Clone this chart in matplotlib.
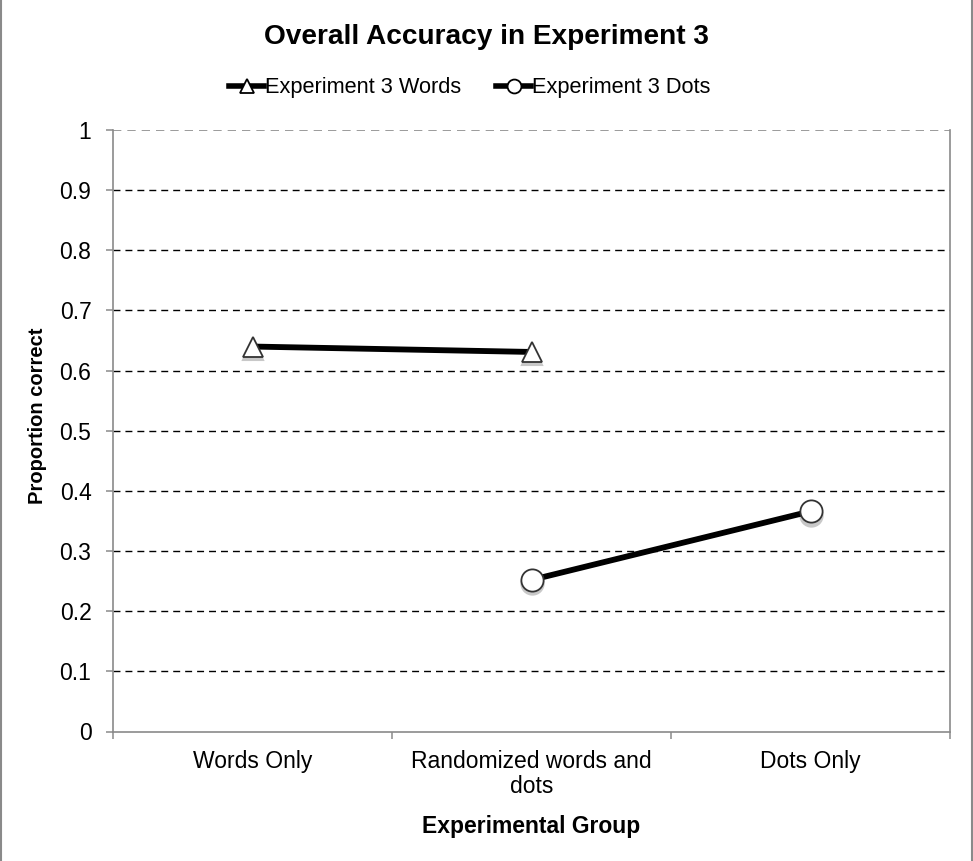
import matplotlib
matplotlib.use("Agg")
import matplotlib.pyplot as plt
from matplotlib.lines import Line2D
from matplotlib.transforms import ScaledTranslation

# ---- data ----
categories = ["Words Only", "Randomized words and\ndots", "Dots Only"]
words_x = [0, 1]
words_vals = [0.640, 0.631]
dots_x = [1, 2]
dots_vals = [0.252, 0.366]
yticks = [0, 0.1, 0.2, 0.3, 0.4, 0.5, 0.6, 0.7, 0.8, 0.9, 1.0]
ytick_labels = ["0", "0.1", "0.2", "0.3", "0.4", "0.5", "0.6", "0.7", "0.8", "0.9", "1"]
series_names = ["Experiment 3 Words", "Experiment 3 Dots"]
title = "Overall Accuracy in Experiment 3"
xlabel = "Experimental Group"
ylabel = "Proportion correct"

plt.rcParams["font.family"] = ["Liberation Sans", "DejaVu Sans"]

W, H = 973, 861
fig = plt.figure(figsize=(W / 100, H / 100), dpi=100)
fig.patch.set_facecolor("white")

left, right, top, bottom = 113, 950, 130, 731.5
ax = fig.add_axes([left / W, 1 - bottom / H, (right - left) / W, (bottom - top) / H])

gray = "#8a8a8a"
ax.set_xlim(-0.5, 2.5)
ax.set_ylim(0, 1)

# spines
for s in ["left", "bottom", "right"]:
    ax.spines[s].set_color(gray)
    ax.spines[s].set_linewidth(1.2)
ax.spines["top"].set_visible(False)

# y ticks
ax.set_yticks(yticks)
ax.set_yticklabels(ytick_labels)
ax.tick_params(axis="y", direction="out", length=5, width=1.1, color=gray,
               labelsize=16.5, pad=10.5)
# x ticks: labels at centres, tick marks at boundaries
ax.set_xticks(range(len(categories)))
ax.set_xticklabels(categories, linespacing=1.12)
ax.set_xticks([i - 0.5 for i in range(len(categories) + 1)], minor=True)
ax.tick_params(axis="x", which="major", length=0, labelsize=16.5, pad=13)
ax.tick_params(axis="x", which="minor", direction="out", length=5, width=1.1, color=gray)

# grid
ax.set_axisbelow(True)
ax.yaxis.grid(True, color="black", linewidth=1.0, linestyle=(0, (5, 3.6)))
glines = ax.get_ygridlines()
glines[0].set_visible(False)
glines[-1].set_color(gray)
glines[-1].set_linewidth(1.2)

# shadows for markers
shadow_tr = ax.transData + ScaledTranslation(0, -2.5 / 72, fig.dpi_scale_trans)
ax.plot(words_x, words_vals, linestyle="none", marker="^", markersize=15,
        markerfacecolor="#c8c8c8", markeredgecolor="#c8c8c8", markeredgewidth=1.5,
        transform=shadow_tr, zorder=3)
ax.plot(dots_x, dots_vals, linestyle="none", marker="o", markersize=16,
        markerfacecolor="#c8c8c8", markeredgecolor="#c8c8c8", markeredgewidth=1.5,
        transform=shadow_tr, zorder=3)

# series
ax.plot(words_x, words_vals, color="black", linewidth=4.2, solid_capstyle="butt",
        marker="^", markersize=15, markerfacecolor="white", markeredgecolor="#333333",
        markeredgewidth=1.3, zorder=4)
ax.plot(dots_x, dots_vals, color="black", linewidth=4.2, solid_capstyle="butt",
        marker="o", markersize=16, markerfacecolor="white", markeredgecolor="#333333",
        markeredgewidth=1.3, zorder=4)

# legend proxies
handles = [
    Line2D([], [], color="black", linewidth=4.0, marker="^", markersize=10,
           markerfacecolor="white", markeredgecolor="black", markeredgewidth=1.3),
    Line2D([], [], color="black", linewidth=4.0, marker="o", markersize=10,
           markerfacecolor="white", markeredgecolor="black", markeredgewidth=1.3),
]
fig.legend(handles, series_names, loc="center", bbox_to_anchor=(470 / W, 1 - 88 / H),
           ncol=2, frameon=False, fontsize=15.7, handlelength=1.6, handletextpad=0.05,
           columnspacing=1.6, borderpad=0, borderaxespad=0)

# texts
fig.text(486 / W, 1 - 37 / H, title, ha="center", va="center", fontsize=20.2,
         fontweight="bold")
fig.text(531 / W, 1 - 827 / H, xlabel, ha="center", va="center", fontsize=16.5,
         fontweight="bold")
fig.text(38 / W, 1 - 416 / H, ylabel, ha="center", va="center", fontsize=14.5,
         fontweight="bold", rotation=90)

# outer frame lines
fig.add_artist(Line2D([1 / W, 1 / W], [0, 1], transform=fig.transFigure,
                      color=gray, linewidth=1.5))
fig.add_artist(Line2D([971.5 / W, 971.5 / W], [0, 1], transform=fig.transFigure,
                      color=gray, linewidth=1.5))

fig.savefig("out.png", dpi=100)
